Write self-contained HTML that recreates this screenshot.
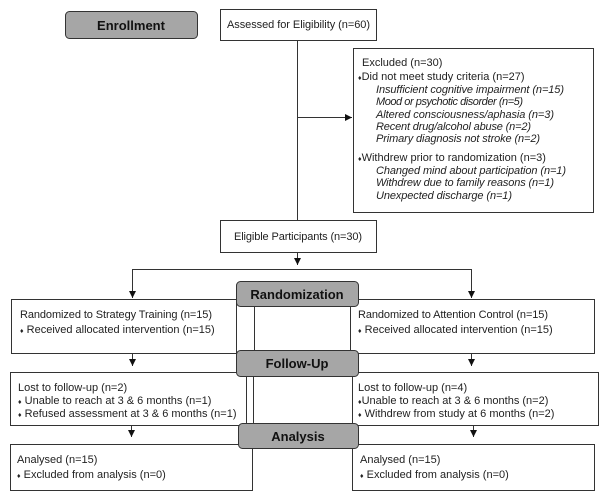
<!DOCTYPE html>
<html><head><meta charset="utf-8"><style>
html,body{margin:0;padding:0;background:#fff;}
svg{display:block;}
text{font-family:"Liberation Sans",Arial,sans-serif;font-size:11px;fill:#222;}
.i{font-style:italic;}
.h{font-weight:bold;font-size:13px;fill:#111;}
.b{font-size:7px;}
</style></head><body>
<svg width="601" height="500" viewBox="0 0 601 500" xmlns="http://www.w3.org/2000/svg">
<defs><marker id="a" markerWidth="8" markerHeight="8" refX="7" refY="4" orient="auto" markerUnits="userSpaceOnUse"><path d="M0,0.5 L7,4 L0,7.5z" fill="#111"/></marker></defs>
<g stroke="#333" stroke-width="1" fill="#fff">
<rect x="65.5" y="11.5" width="132" height="27" rx="4" fill="#a6a6a6"/>
<rect x="220.5" y="9.5" width="156" height="31"/>
<rect x="353.5" y="48.5" width="240" height="164"/>
<rect x="220.5" y="220.5" width="156" height="32"/>
<line x1="297.5" y1="40" x2="297.5" y2="220"/>
<line x1="297.5" y1="117.5" x2="352" y2="117.5" marker-end="url(#a)"/>
<line x1="297.5" y1="252" x2="297.5" y2="265" marker-end="url(#a)"/>
<polyline points="132.5,298 132.5,269.5 471.5,269.5 471.5,298" fill="none"/>
<line x1="132.5" y1="280" x2="132.5" y2="298" marker-end="url(#a)"/>
<line x1="471.5" y1="280" x2="471.5" y2="298" marker-end="url(#a)"/>
<rect x="11.5" y="299.5" width="225" height="54"/>
<rect x="350.5" y="299.5" width="244" height="54"/>
<line x1="254.5" y1="306" x2="254.5" y2="350"/>
<line x1="132.5" y1="353" x2="132.5" y2="366" marker-end="url(#a)"/>
<line x1="471.5" y1="353" x2="471.5" y2="366" marker-end="url(#a)"/>
<rect x="10.5" y="372.5" width="236" height="53"/>
<rect x="352.5" y="372.5" width="246" height="53"/>
<line x1="253.5" y1="376" x2="253.5" y2="423"/>
<line x1="131.5" y1="425" x2="131.5" y2="437" marker-end="url(#a)"/>
<line x1="473.5" y1="425" x2="473.5" y2="437" marker-end="url(#a)"/>
<rect x="10.5" y="444.5" width="242" height="46"/>
<rect x="352.5" y="444.5" width="242" height="46"/>
<rect x="236.5" y="281.5" width="122" height="25" rx="4" fill="#a6a6a6"/>
<rect x="236.5" y="350.5" width="122" height="26" rx="4" fill="#a6a6a6"/>
<rect x="238.5" y="423.5" width="120" height="25" rx="4" fill="#a6a6a6"/>
</g>
<text class="h" x="131" y="30" text-anchor="middle">Enrollment</text>
<text class="h" x="297" y="299" text-anchor="middle">Randomization</text>
<text class="h" x="297" y="368" text-anchor="middle">Follow-Up</text>
<text class="h" x="298" y="441" text-anchor="middle">Analysis</text>
<text x="227" y="28" textLength="143">Assessed for Eligibility (n=60)</text>
<text x="362" y="66">Excluded (n=30)</text>
<text x="358" y="80"><tspan class="b">♦</tspan>Did not meet study criteria (n=27)</text>
<text class="i" x="376" y="93" textLength="188">Insufficient cognitive impairment (n=15)</text>
<text class="i" x="376" y="105" textLength="147">Mood or psychotic disorder (n=5)</text>
<text class="i" x="376" y="118" textLength="178">Altered consciousness/aphasia (n=3)</text>
<text class="i" x="376" y="130" textLength="155">Recent drug/alcohol abuse (n=2)</text>
<text class="i" x="376" y="142" textLength="164">Primary diagnosis not stroke (n=2)</text>
<text x="358" y="161"><tspan class="b">♦</tspan>Withdrew prior to randomization (n=3)</text>
<text class="i" x="376" y="174" textLength="190">Changed mind about participation (n=1)</text>
<text class="i" x="376" y="186" textLength="178">Withdrew due to family reasons (n=1)</text>
<text class="i" x="376" y="199" textLength="136">Unexpected discharge (n=1)</text>
<text x="234" y="240" textLength="128">Eligible Participants (n=30)</text>
<text x="20" y="318" textLength="192">Randomized to Strategy Training (n=15)</text>
<text x="20" y="333"><tspan class="b">♦</tspan> Received allocated intervention (n=15)</text>
<text x="358" y="318" textLength="190">Randomized to Attention Control (n=15)</text>
<text x="358" y="333"><tspan class="b">♦</tspan> Received allocated intervention (n=15)</text>
<text x="18" y="391">Lost to follow-up (n=2)</text>
<text x="18" y="404"><tspan class="b">♦</tspan> Unable to reach at 3 &amp; 6 months (n=1)</text>
<text x="18" y="417"><tspan class="b">♦</tspan> Refused assessment at 3 &amp; 6 months (n=1)</text>
<text x="358" y="391">Lost to follow-up (n=4)</text>
<text x="358" y="404"><tspan class="b">♦</tspan>Unable to reach at 3 &amp; 6 months (n=2)</text>
<text x="358" y="417"><tspan class="b">♦</tspan> Withdrew from study at 6 months (n=2)</text>
<text x="17" y="463">Analysed (n=15)</text>
<text x="17" y="478"><tspan class="b">♦</tspan> Excluded from analysis (n=0)</text>
<text x="360" y="463">Analysed (n=15)</text>
<text x="360" y="478"><tspan class="b">♦</tspan> Excluded from analysis (n=0)</text>
</svg>
</body></html>
